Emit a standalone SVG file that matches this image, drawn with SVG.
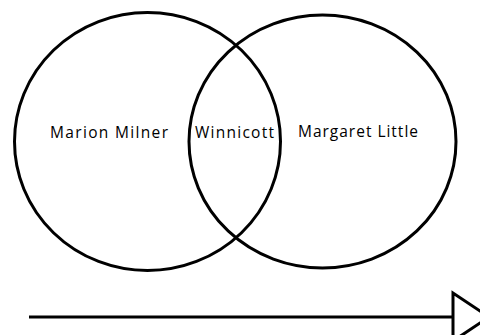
<svg xmlns="http://www.w3.org/2000/svg" width="480" height="335" viewBox="0 0 480 335">
<style>
.c{fill:none;stroke:#000;stroke-width:3}
.t{font-family:"Open Sans","Liberation Sans",sans-serif;font-size:15.5px;fill:#000}
</style>
<rect width="480" height="335" fill="#fff"/>
<g id="marion-milner">
<ellipse class="c" cx="147.5" cy="141.5" rx="133" ry="129"/>
<text class="t" x="50" y="138" textLength="118">Marion Milner</text>
</g>
<g id="margaret-little">
<ellipse class="c" cx="322.5" cy="141.5" rx="133.5" ry="126.5"/>
<text class="t" x="298" y="137" textLength="120">Margaret Little</text>
</g>
<g id="winnicott">
<text class="t" x="195" y="138" textLength="79">Winnicott</text>
</g>
<g id="connectors">
<line class="c" x1="29" y1="317" x2="453" y2="317"/>
<polygon class="c" points="453,293 453,341 489,317"/>
</g>
</svg>
